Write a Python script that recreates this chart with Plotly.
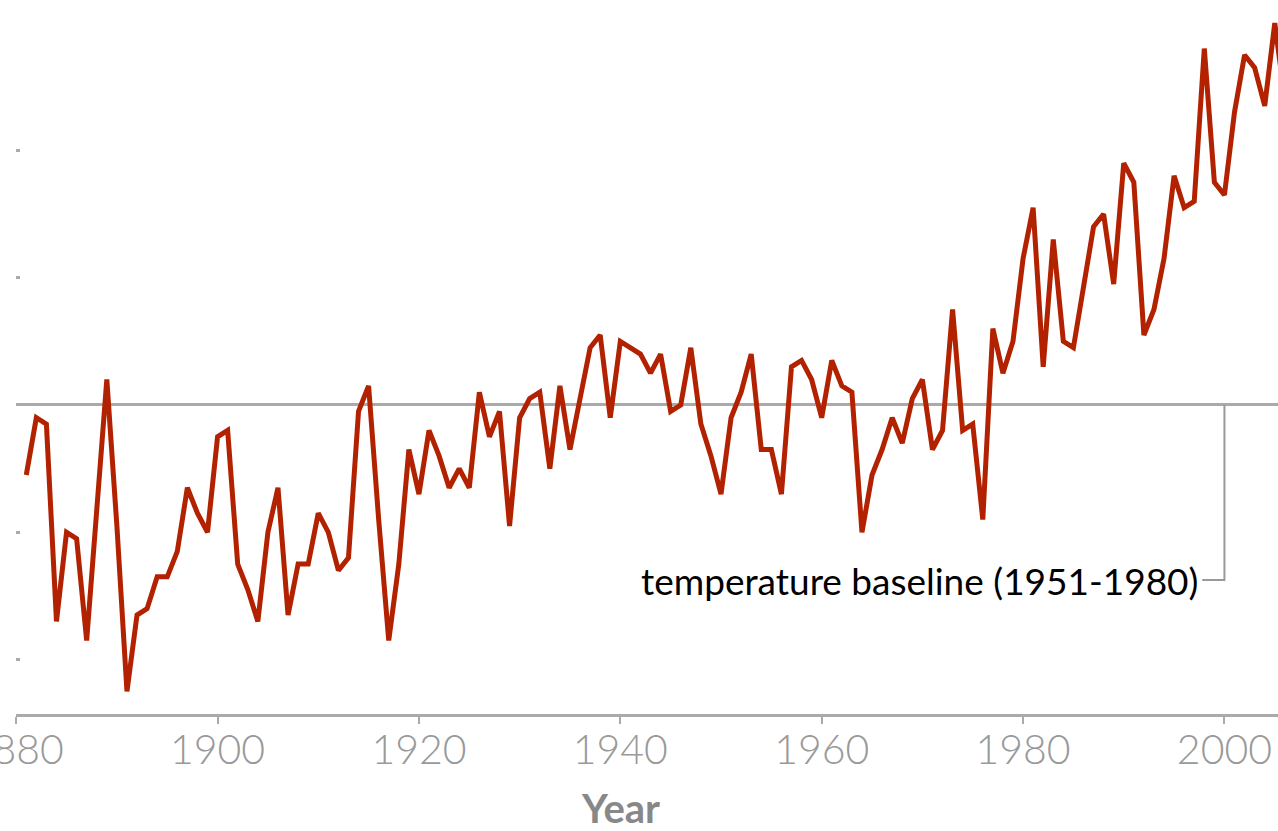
import plotly.graph_objects as go

# annual temperature anomaly vs 1951-1980 baseline (deg C)
years = list(range(1881, 2007))
anomaly = [
    -0.11, -0.02, -0.03, -0.34, -0.20, -0.21, -0.37, -0.16, 0.04, -0.19,   # 1881-1890
    -0.45, -0.33, -0.32, -0.27, -0.27, -0.23, -0.13, -0.17, -0.20, -0.05,  # 1891-1900
    -0.04, -0.25, -0.29, -0.34, -0.20, -0.13, -0.33, -0.25, -0.25, -0.17,  # 1901-1910
    -0.20, -0.26, -0.24, -0.01, 0.03, -0.18, -0.37, -0.25, -0.07, -0.14,   # 1911-1920
    -0.04, -0.08, -0.13, -0.10, -0.13, 0.02, -0.05, -0.01, -0.19, -0.02,   # 1921-1930
    0.01, 0.02, -0.10, 0.03, -0.07, 0.01, 0.09, 0.11, -0.02, 0.10,         # 1931-1940
    0.09, 0.08, 0.05, 0.08, -0.01, 0.00, 0.09, -0.03, -0.08, -0.14,        # 1941-1950
    -0.02, 0.02, 0.08, -0.07, -0.07, -0.14, 0.06, 0.07, 0.04, -0.02,       # 1951-1960
    0.07, 0.03, 0.02, -0.20, -0.11, -0.07, -0.02, -0.06, 0.01, 0.04,       # 1961-1970
    -0.07, -0.04, 0.15, -0.04, -0.03, -0.18, 0.12, 0.05, 0.10, 0.23,       # 1971-1980
    0.31, 0.06, 0.26, 0.10, 0.09, 0.18, 0.28, 0.30, 0.19, 0.38,            # 1981-1990
    0.35, 0.11, 0.15, 0.23, 0.36, 0.31, 0.32, 0.56, 0.35, 0.33,            # 1991-2000
    0.46, 0.55, 0.53, 0.47, 0.60, 0.48,                                    # 2001-2006
]

x_ticks = [1880, 1900, 1920, 1940, 1960, 1980, 2000]
y_ticks = [-0.4, -0.2, 0, 0.2, 0.4]
baseline_label = "temperature baseline (1951-1980)"
label_y = -0.275

GRAY = "#aaaaaa"
RED = "#b32200"

fig = go.Figure()

fig.add_trace(go.Scatter(
    x=years,
    y=anomaly,
    mode="lines",
    line=dict(color=RED, width=5),
    hoverinfo="x+y",
))

# leader from the baseline to its label
fig.add_shape(
    type="path",
    path=f"M 2000,0 L 2000,{label_y} L 1997.8,{label_y}",
    line=dict(color="#999999", width=2),
    xref="x", yref="y",
)

fig.add_annotation(
    x=1997.6, y=label_y, xref="x", yref="y",
    text=baseline_label, showarrow=False,
    xanchor="right", yanchor="middle",
    font=dict(family="Lato", size=37, color="#000000"),
)

fig.add_annotation(
    x=0.479, y=-0.132, xref="paper", yref="paper",
    text="<b>Year</b>", showarrow=False,
    xanchor="center", yanchor="middle",
    font=dict(family="Lato", size=40, color="#888888"),
)

fig.update_xaxes(
    range=[1879.98, 2005.32],
    tickvals=x_ticks,
    ticktext=[str(t) for t in x_ticks],
    showline=True, linecolor=GRAY, linewidth=3,
    ticks="outside", ticklen=7, tickwidth=2, tickcolor=GRAY,
    tickfont=dict(family="Lato", size=41, color="#999999", weight=300),
    ticklabeloverflow="allow", ticklabelstandoff=-9,
    showgrid=False, zeroline=False, automargin=False,
)

fig.update_yaxes(
    range=[-0.4855, 0.6363],
    tickvals=y_ticks,
    showticklabels=False,
    ticks="inside", ticklen=4, tickwidth=3, tickcolor=GRAY,
    showline=False, showgrid=False,
    zeroline=True, zerolinecolor=GRAY, zerolinewidth=3,
    automargin=False,
)

fig.update_layout(
    width=1278, height=831,
    margin=dict(l=16, r=0, t=0, b=117),
    paper_bgcolor="white",
    plot_bgcolor="white",
    showlegend=False,
)

fig.write_html(
    "out.html",
    config={"displayModeBar": False},
    post_script="document.body.style.margin='0';",
)
